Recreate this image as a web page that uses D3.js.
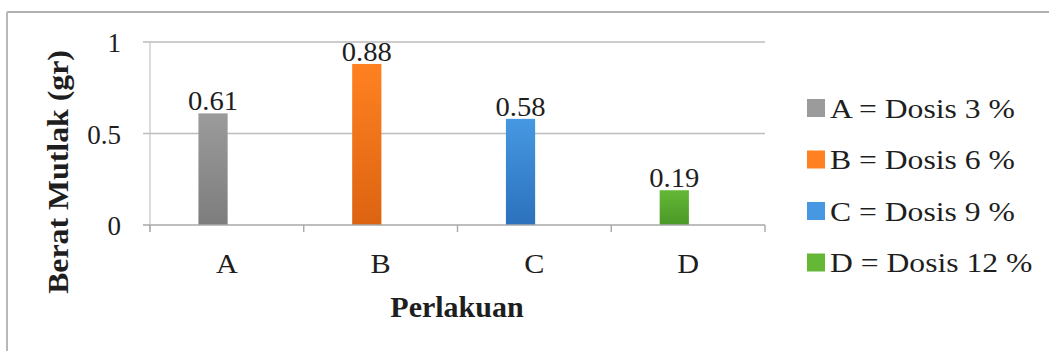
<!DOCTYPE html>
<html>
<head>
<meta charset="utf-8">
<script src="https://cdnjs.cloudflare.com/ajax/libs/d3/7.8.5/d3.min.js"></script>
<style>
  html, body { margin: 0; padding: 0; background: #fff; }
  svg { display: block; }
  text { font-family: "Liberation Serif", "Times New Roman", serif; fill: #1e1e1e; }
</style>
</head>
<body>
<svg id="chart" width="1049" height="351"></svg>
<script>
// Treatment categories and absolute weight (gr)
const categories = ["A", "B", "C", "D"];
const values = [0.61, 0.88, 0.58, 0.19];
const yTicks = [0, 0.5, 1];
const legendLabels = ["A = Dosis 3 %", "B = Dosis 6 %", "C = Dosis 9 %", "D = Dosis 12 %"];
const colorsTop = ["#9b9b9b", "#ff8121", "#4698e2", "#64b836"];
const colorsBottom = ["#7d7d7d", "#dc6311", "#2c71bc", "#4a9827"];

const svg = d3.select("#chart");
const W = 1049, H = 351;
const plot = { left: 150, right: 765, top: 42, bottom: 225 };

// Chart frame (top and left edges)
svg.append("line").attr("x1", 7).attr("x2", W).attr("y1", 12).attr("y2", 12)
  .attr("stroke", "#b0b0b0").attr("stroke-width", 2);
svg.append("line").attr("x1", 7).attr("x2", 7).attr("y1", 12).attr("y2", H)
  .attr("stroke", "#b8b8b8").attr("stroke-width", 2);

// Gradients for the bars
const defs = svg.append("defs");
categories.forEach((c, i) => {
  const g = defs.append("linearGradient").attr("id", "grad" + i)
    .attr("x1", 0).attr("y1", 0).attr("x2", 0).attr("y2", 1);
  g.append("stop").attr("offset", "0%").attr("stop-color", colorsTop[i]);
  g.append("stop").attr("offset", "100%").attr("stop-color", colorsBottom[i]);
});

const x = d3.scaleBand().domain(categories).range([plot.left, plot.right]).padding(0);
const y = d3.scaleLinear().domain([0, 1]).range([plot.bottom, plot.top]);
const bw = x.bandwidth();
const barX = c => x(c) + bw * 0.315;
const barW = bw * 0.19;

// Places a text at (px, py) with a slight horizontal widening of the glyphs
function placeText(sel, px, py, sx) {
  sel.attr("x", 0).attr("y", 0)
    .attr("transform", (d, i) => `translate(${px(d, i)},${py(d, i)}) scale(${sx},1)`);
  return sel;
}

// Horizontal gridlines
svg.append("g").selectAll("line").data(yTicks.filter(d => d !== 0)).join("line")
  .attr("x1", plot.left - 7).attr("x2", plot.right)
  .attr("y1", d => y(d)).attr("y2", d => y(d))
  .attr("stroke", "#bdbdbd").attr("stroke-width", 1.6);

// Y tick labels
const yAxis = d3.axisLeft(y).tickValues(yTicks).tickFormat(d3.format("")).tickSize(0);
const gy = svg.append("g").attr("transform", `translate(${plot.left},0)`).call(yAxis);
gy.select(".domain").remove();
gy.selectAll(".tick line").remove();
gy.selectAll(".tick text")
  .attr("x", -29).attr("dy", "0.36em")
  .attr("text-anchor", "end")
  .style("font-size", "27px").style("fill", "#1e1e1e")
  .style("font-family", "'Liberation Serif', serif");

// Vertical axis line
svg.append("line").attr("x1", plot.left).attr("x2", plot.left)
  .attr("y1", plot.top).attr("y2", plot.bottom + 7)
  .attr("stroke", "#c4c4c4").attr("stroke-width", 1.2);

// Bars
svg.append("g").selectAll("rect").data(values).join("rect")
  .attr("x", (d, i) => barX(categories[i]))
  .attr("width", barW)
  .attr("y", d => y(d))
  .attr("height", d => y(0) - y(d))
  .attr("fill", (d, i) => `url(#grad${i})`);

// Baseline and category tick marks
svg.append("line").attr("x1", plot.left - 7).attr("x2", plot.right)
  .attr("y1", y(0)).attr("y2", y(0))
  .attr("stroke", "#a8a8a8").attr("stroke-width", 1.4);
const boundaries = categories.map(c => x(c)).concat([plot.right]);
svg.append("g").selectAll("line").data(boundaries).join("line")
  .attr("x1", d => d).attr("x2", d => d)
  .attr("y1", y(0)).attr("y2", y(0) + 7)
  .attr("stroke", "#a8a8a8").attr("stroke-width", 1.4);

// Category labels
placeText(
  svg.append("g").selectAll("text").data(categories).join("text")
    .attr("text-anchor", "middle").style("font-size", "27px").text(d => d),
  d => x(d) + bw / 2, () => 273, 1.12);

// Value labels
placeText(
  svg.append("g").selectAll("text").data(values).join("text")
    .attr("text-anchor", "middle").style("font-size", "27px")
    .text(d => d3.format(".2f")(d)),
  (d, i) => barX(categories[i]) + barW / 2, d => y(d) - 3, 1.06);

// Axis titles
svg.append("text")
  .attr("transform", `translate(68,172) rotate(-90) scale(1.06,1)`)
  .attr("text-anchor", "middle")
  .style("font-size", "30px").style("font-weight", "bold")
  .text("Berat Mutlak (gr)");
svg.append("text")
  .attr("x", 457).attr("y", 317)
  .attr("text-anchor", "middle")
  .style("font-size", "30px").style("font-weight", "bold")
  .text("Perlakuan");

// Legend
const legend = svg.append("g").selectAll("g").data(legendLabels).join("g")
  .attr("transform", (d, i) => `translate(807,${108 + i * 51.5})`);
legend.append("rect")
  .attr("x", 0).attr("y", -9).attr("width", 18).attr("height", 18)
  .attr("fill", (d, i) => colorsTop[i]);
legend.append("text")
  .attr("transform", "translate(23,9.5) scale(1.13,1)")
  .style("font-size", "28px")
  .text(d => d);
</script>
</body>
</html>
